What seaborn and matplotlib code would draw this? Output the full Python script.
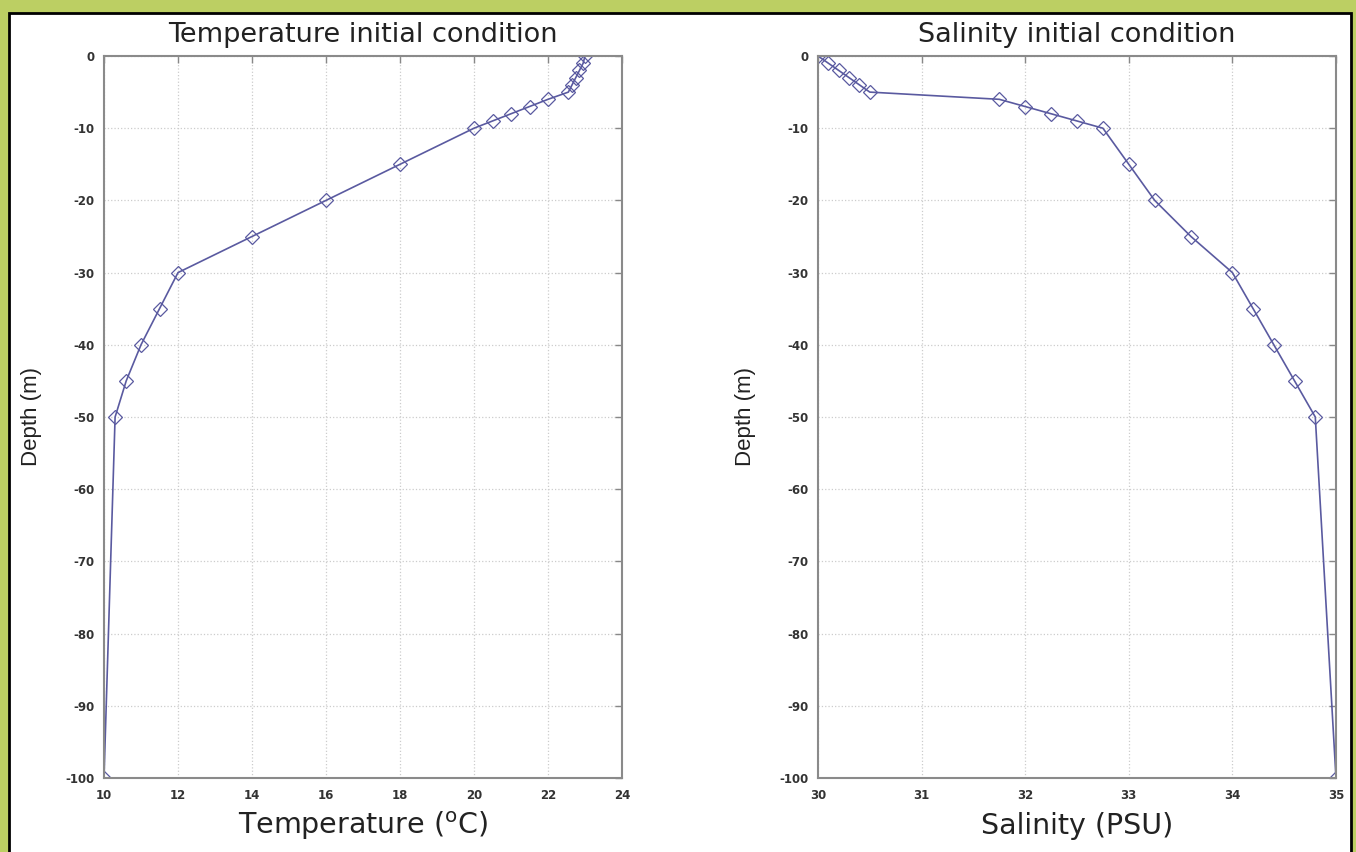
import matplotlib
matplotlib.use("Agg")
import matplotlib.pyplot as plt
import seaborn as sns
import pandas as pd
from matplotlib.patches import Rectangle

# ---- data ----
temp_depth = [0, -1, -2, -3, -4, -5, -6, -7, -8, -9, -10, -15, -20, -25, -30, -35, -40, -45, -50, -100]
temperature = [23.0, 22.95, 22.85, 22.75, 22.65, 22.55, 22.0, 21.5, 21.0, 20.5, 20.0, 18.0, 16.0, 14.0, 12.0, 11.5, 11.0, 10.6, 10.3, 10.0]

sal_depth = [0, -1, -2, -3, -4, -5, -6, -7, -8, -9, -10, -15, -20, -25, -30, -35, -40, -45, -50, -100]
salinity = [30.0, 30.1, 30.2, 30.3, 30.4, 30.5, 31.75, 32.0, 32.25, 32.5, 32.75, 33.0, 33.25, 33.6, 34.0, 34.2, 34.4, 34.6, 34.8, 35.0]

temp_ticks = [10, 12, 14, 16, 18, 20, 22, 24]
sal_ticks = [30, 31, 32, 33, 34, 35]
depth_ticks = [0, -10, -20, -30, -40, -50, -60, -70, -80, -90, -100]

titles = ["Temperature initial condition", "Salinity initial condition"]
xlabels = ["Temperature ($^{\\mathrm{o}}$C)", "Salinity (PSU)"]
ylabel = "Depth (m)"

sns.set_theme(style="white")
plt.rcParams['font.family'] = ['DejaVu Sans']
plt.rcParams['mathtext.fontset'] = 'dejavusans'

W, H = 1356, 852
fig = plt.figure(figsize=(W / 100, H / 100), dpi=100)
fig.patch.set_facecolor("#bccf63")
fig.patches.append(Rectangle((9 / W, -0.01), (1351 - 9) / W, (852 - 13) / H + 0.01,
                             transform=fig.transFigure, facecolor="white",
                             edgecolor="black", linewidth=2.0, zorder=-10))

line_color = "#5a5aa0"
panels = [
    (104, temperature, temp_depth, temp_ticks, (10, 24)),
    (818, salinity, sal_depth, sal_ticks, (30, 35)),
]

for i, (left, xs, ys, xt, xlim) in enumerate(panels):
    ax = fig.add_axes([left / W, (H - 778) / H, 518 / W, 722 / H])
    df = pd.DataFrame({"x": xs, "y": ys})
    sns.lineplot(data=df, x="x", y="y", ax=ax, sort=False, estimator=None,
                 color=line_color, linewidth=1.2, marker="D", markersize=7,
                 markerfacecolor="none", markeredgecolor=line_color,
                 markeredgewidth=0.9)
    ax.set_xlim(*xlim)
    ax.set_ylim(-100, 0)
    ax.set_xticks(xt)
    ax.set_yticks(depth_ticks)
    ax.set_xticklabels([str(t) for t in xt])
    ax.set_yticklabels([str(t) for t in depth_ticks])
    ax.grid(True, linestyle=":", color="#cccccc", linewidth=0.9)
    ax.tick_params(axis="both", which="both", direction="in", length=5,
                   width=1, color="#888888", top=True, right=True,
                   labelsize=8.5)
    ax.tick_params(axis="x", pad=8)
    ax.tick_params(axis="y", pad=7)
    for lab in ax.get_xticklabels() + ax.get_yticklabels():
        lab.set_fontweight("bold")
        lab.set_color("#333333")
    for sp in ax.spines.values():
        sp.set_visible(True)
        sp.set_color("#8a8a8a")
        sp.set_linewidth(1.5)
    ax.set_title(titles[i], fontsize=19.5, pad=10, color="#222222")
    ax.set_xlabel(xlabels[i], fontsize=20.5, color="#222222", va="center")
    ax.xaxis.set_label_coords(0.5, -0.066)
    ax.set_ylabel(ylabel, fontsize=16, color="#222222", va="center",
                  family=['Liberation Sans', 'DejaVu Sans'])
    ax.yaxis.set_label_coords(-0.139, 0.5)

fig.savefig("out.png", dpi=100, facecolor=fig.get_facecolor())
